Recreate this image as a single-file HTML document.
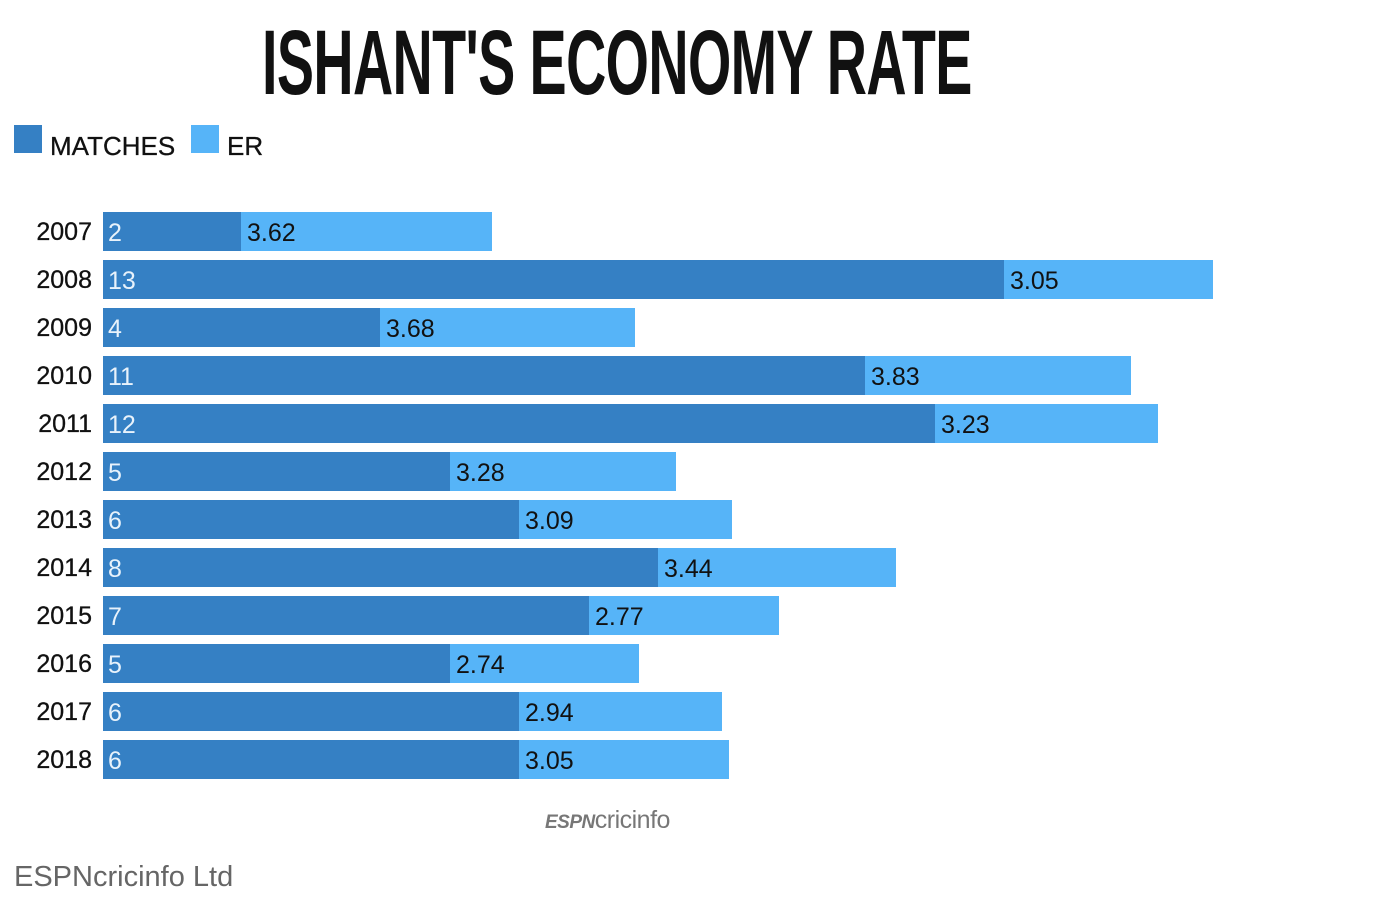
<!DOCTYPE html>
<html><head><style>
body{margin:0;width:1394px;height:912px;background:#fff;position:relative;overflow:hidden;font-family:"Liberation Sans",sans-serif}
.t{position:absolute;left:262px;top:18px;font-family:"Liberation Sans Narrow","Liberation Sans",sans-serif;font-weight:bold;font-size:92px;color:#111;white-space:nowrap;transform-origin:0 0;transform:scaleX(0.605);letter-spacing:-1px;line-height:90px}
.r{position:absolute;height:39px}
.d{background:#3580c4}.l{background:#56b4f8}
.y{position:absolute;width:92px;text-align:right;font-size:25px;color:#111;left:0;-webkit-text-stroke:0.3px #111}
.v{position:absolute;font-size:25px}
</style></head><body>
<div class="t">ISHANT'S ECONOMY RATE</div>
<div class="r d" style="left:14px;top:125px;width:28px;height:28px"></div>
<div class="v" style="left:50px;top:131px;color:#111;font-size:26px;-webkit-text-stroke:0.3px #111">MATCHES</div>
<div class="r l" style="left:191px;top:125px;width:28px;height:28px"></div>
<div class="v" style="left:227px;top:131px;color:#111;font-size:26px;-webkit-text-stroke:0.3px #111">ER</div>
<div id="c"></div>
<div style="position:absolute;left:545px;top:806px;font-size:25px;color:#777;letter-spacing:-0.5px"><i style="font-weight:bold;font-size:19px">ESPN</i>cricinfo</div>
<div style="position:absolute;left:14px;top:861px;font-size:29px;color:#666">ESPNcricinfo Ltd</div>
<script>
var d=[[2007,2,3.62,241,492],[2008,13,3.05,1004,1213],[2009,4,3.68,380,635],[2010,11,3.83,865,1131],[2011,12,3.23,935,1158],[2012,5,3.28,450,676],[2013,6,3.09,519,732],[2014,8,3.44,658,896],[2015,7,2.77,589,779],[2016,5,2.74,450,639],[2017,6,2.94,519,722],[2018,6,3.05,519,729]];
var h="";d.forEach(function(r,i){var y=212+i*48;
h+='<div class="r l" style="left:103px;top:'+y+'px;width:'+(r[4]-103)+'px"></div>';
h+='<div class="r d" style="left:103px;top:'+y+'px;width:'+(r[3]-103)+'px"></div>';
h+='<div class="y" style="top:'+(y+6)+'px">'+r[0]+'</div>';
h+='<div class="v" style="left:108px;top:'+(y+7)+'px;color:#e8f2fb">'+r[1]+'</div>';
h+='<div class="v" style="left:'+(r[3]+6)+'px;top:'+(y+7)+'px;color:#111">'+r[2].toFixed(2)+'</div>';});
document.getElementById("c").innerHTML=h;
</script>
</body></html>
